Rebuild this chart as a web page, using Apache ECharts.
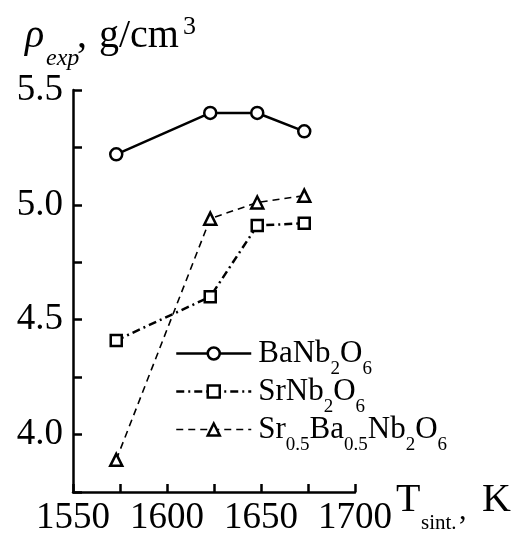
<!DOCTYPE html>
<html>
<head>
<meta charset="utf-8">
<script src="https://cdn.jsdelivr.net/npm/echarts@6/dist/echarts.min.js"></script>
<style>
  html, body { margin: 0; padding: 0; background: #fff; }
  #chart { width: 526px; height: 550px; }
</style>
</head>
<body>
<div id="chart"></div>
<script>
// sintering temperature, K
const tempK = [1573, 1623, 1648, 1673];
// experimental density, g/cm3
const baNb2O6 = [5.22, 5.40, 5.40, 5.32];
const srNb2O6 = [4.41, 4.60, 4.91, 4.92];
const sbn = [3.89, 4.94, 5.01, 5.04];

const seriesNames = ["BaNb2O6", "SrNb2O6", "Sr0.5Ba0.5Nb2O6"];
// legend text split into [text, isSubscript]
const legendParts = {
  BaNb2O6: [["BaNb", 0], ["2", 1], ["O", 0], ["6", 1]],
  SrNb2O6: [["SrNb", 0], ["2", 1], ["O", 0], ["6", 1]],
  "Sr0.5Ba0.5Nb2O6": [["Sr", 0], ["0.5", 1], ["Ba", 0], ["0.5", 1], ["Nb", 0], ["2", 1], ["O", 0], ["6", 1]],
};

const xTickLabels = [1550, 1600, 1650, 1700];
const yTickLabels = ["4.0", "4.5", "5.0", "5.5"];

const FONT = "Liberation Serif";
const INK = "#000";

// per series: symbol, size, dash, line width
const looks = [
  ["circle", 12, "solid", 2.5],
  ["rect", 11, [8, 4, 2, 4], 2.5],
  ["triangle", 12, [7, 5], 1.6],
];

const chart = echarts.init(document.getElementById("chart"));

function pairs(ys) {
  return tempK.map((t, i) => [t, ys[i]]);
}

function lineSeries(i, ys) {
  const [symbol, size, dash, width] = looks[i];
  return {
    name: seriesNames[i],
    type: "line",
    data: pairs(ys),
    symbol,
    symbolSize: size,
    showSymbol: true,
    z: 3,
    lineStyle: { color: INK, width, type: dash },
    itemStyle: { color: "#fff", borderColor: INK, borderWidth: 2.5 },
    emphasis: { disabled: true },
  };
}

function piece(text, x, y, size, italic) {
  return {
    type: "text",
    x,
    y,
    style: {
      text,
      fill: INK,
      font: (italic ? "italic " : "") + size + "px '" + FONT + "'",
      verticalAlign: "middle",
      align: "left",
    },
  };
}

chart.setOption({
  animation: false,
  grid: { left: 73, top: 90, right: 171, bottom: 58 },
  xAxis: {
    type: "value",
    min: 1550,
    max: 1700,
    interval: 25,
    axisLine: { lineStyle: { color: INK, width: 2.5 } },
    axisTick: { inside: true, length: 8, lineStyle: { color: INK, width: 2.5 } },
    splitLine: { show: false },
    axisLabel: {
      color: INK,
      fontFamily: FONT,
      fontSize: 37,
      margin: 8,
      formatter: (v) => (xTickLabels.includes(Math.round(v)) ? String(Math.round(v)) : ""),
    },
  },
  yAxis: {
    type: "value",
    min: 3.75,
    max: 5.5,
    interval: 0.25,
    axisLine: { show: true, lineStyle: { color: INK, width: 2.5 } },
    axisTick: { show: true, inside: true, length: 9, lineStyle: { color: INK, width: 2.5 } },
    splitLine: { show: false },
    axisLabel: {
      color: INK,
      fontFamily: FONT,
      fontSize: 37,
      margin: 10,
      formatter: (v) => {
        const s = v.toFixed(1);
        return yTickLabels.includes(s) && Math.abs(v - Number(s)) < 1e-6 ? s : "";
      },
    },
  },
  legend: {
    orient: "vertical",
    left: 175,
    top: 328,
    padding: 0,
    itemGap: -13,
    itemWidth: 75,
    itemHeight: 15,
    selectedMode: false,
    data: seriesNames.map((name, i) => ({
      name,
      lineStyle: { color: INK, width: looks[i][3], type: looks[i][2] },
      itemStyle: { color: "#fff", borderColor: INK, borderWidth: 2.5 },
    })),
    formatter: (name) =>
      legendParts[name].map(([t, sub]) => "{" + (sub ? "s" : "m") + "|" + t + "}").join(""),
    textStyle: {
      color: INK,
      padding: [0, 0, 0, 2],
      rich: {
        m: { fontFamily: FONT, fontSize: 31, lineHeight: 30, color: INK },
        s: { fontFamily: FONT, fontSize: 19, lineHeight: 18, padding: [32, 0, 0, 0], color: INK },
      },
    },
  },
  graphic: [
    // y axis title: rho_exp, g/cm3
    piece("\u03c1", 25, 36.5, 40, true),
    piece("exp", 46, 59, 24, true),
    piece(",", 77, 36.5, 40, false),
    piece("g/cm", 99, 36.5, 40, false),
    piece("3", 183, 27, 26, false),
    // x axis title: T_sint., K
    piece("T", 396, 500.5, 40, false),
    piece("sint.", 421, 523, 21, false),
    piece(",", 459, 511, 30, false),
    piece("K", 482, 500.5, 40, false),
  ],
  series: [
    lineSeries(0, baNb2O6),
    lineSeries(1, srNb2O6),
    lineSeries(2, sbn),
  ],
});
</script>
</body>
</html>
